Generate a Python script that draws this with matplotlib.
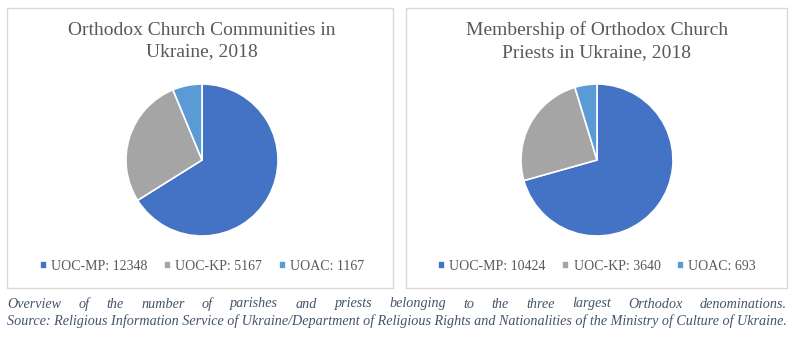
import matplotlib.pyplot as plt
from matplotlib.patches import Rectangle

labels = ["UOC-MP", "UOC-KP", "UOAC"]
communities = [12348, 5167, 1167]
priests = [10424, 3640, 693]
colors = ["#4472C4", "#A5A5A5", "#5B9BD5"]
titles = ["Orthodox Church Communities in\nUkraine, 2018",
          "Membership of Orthodox Church\nPriests in Ukraine, 2018"]
caption1 = ("Overview of the number of parishes and priests belonging to the "
            "three largest Orthodox denominations.")
caption2 = ("Source: Religious Information Service of Ukraine/Department of Religious "
            "Rights and Nationalities of the Ministry of Culture of Ukraine.")

W, H = 800, 343
fig = plt.figure(figsize=(W / 100, H / 100), dpi=100)
serif = ["Liberation Serif", "DejaVu Serif"]


def fx(x):
    return x / W


def fy(y):
    return 1 - y / H


panels = [(7, 393, 202), (406, 787, 597)]
for (x0, x1, cx), vals, title in zip(panels, [communities, priests], titles):
    fig.patches.append(Rectangle((fx(x0), fy(288)), fx(x1 - x0), (288 - 8) / H,
                                 transform=fig.transFigure, fill=False,
                                 edgecolor="#D9D9D9", linewidth=1))
    fig.text(fx(cx), fy(41), title, ha="center", va="center", fontsize=14,
             color="#595959", family=serif, linespacing=1.35)
    r = 76
    ax = fig.add_axes([fx(cx - r), fy(160 + r), 2 * r / W, 2 * r / H])
    wedges, _ = ax.pie(vals, colors=colors, startangle=90, counterclock=False,
                       wedgeprops=dict(edgecolor="white", linewidth=1.2))
    ax.set_xlim(-1, 1)
    ax.set_ylim(-1, 1)
    leg = fig.legend(wedges, [f"{l}: {v}" for l, v in zip(labels, vals)],
                     loc="center", bbox_to_anchor=(fx(cx), fy(266)), ncol=3,
                     frameon=False, handlelength=0.5, handleheight=0.5,
                     handletextpad=0.3, columnspacing=1.2,
                     prop=dict(family=serif, size=10))
    for t in leg.get_texts():
        t.set_color("#595959")

renderer = fig.canvas.get_renderer()
left, right = 7, 787
cap_kw = dict(style="italic", color="#44546A", family=serif, va="center")

# second line: shrink the font so it fills the width
t2 = fig.text(fx(left), fy(321), caption2, ha="left", fontsize=10, **cap_kw)
size = 10 * (right - 1 - left) / t2.get_window_extent(renderer).width
t2.set_fontsize(size)

# justified first caption line
words = caption1.split()
texts = [fig.text(0, fy(304), w, ha="left", fontsize=size, **cap_kw) for w in words]
widths = [t.get_window_extent(renderer).width for t in texts]
gap = (right - left - sum(widths)) / (len(words) - 1)
x = left
for t, w in zip(texts, widths):
    t.set_x(fx(x))
    x += w + gap

fig.savefig("out.png", dpi=100)
